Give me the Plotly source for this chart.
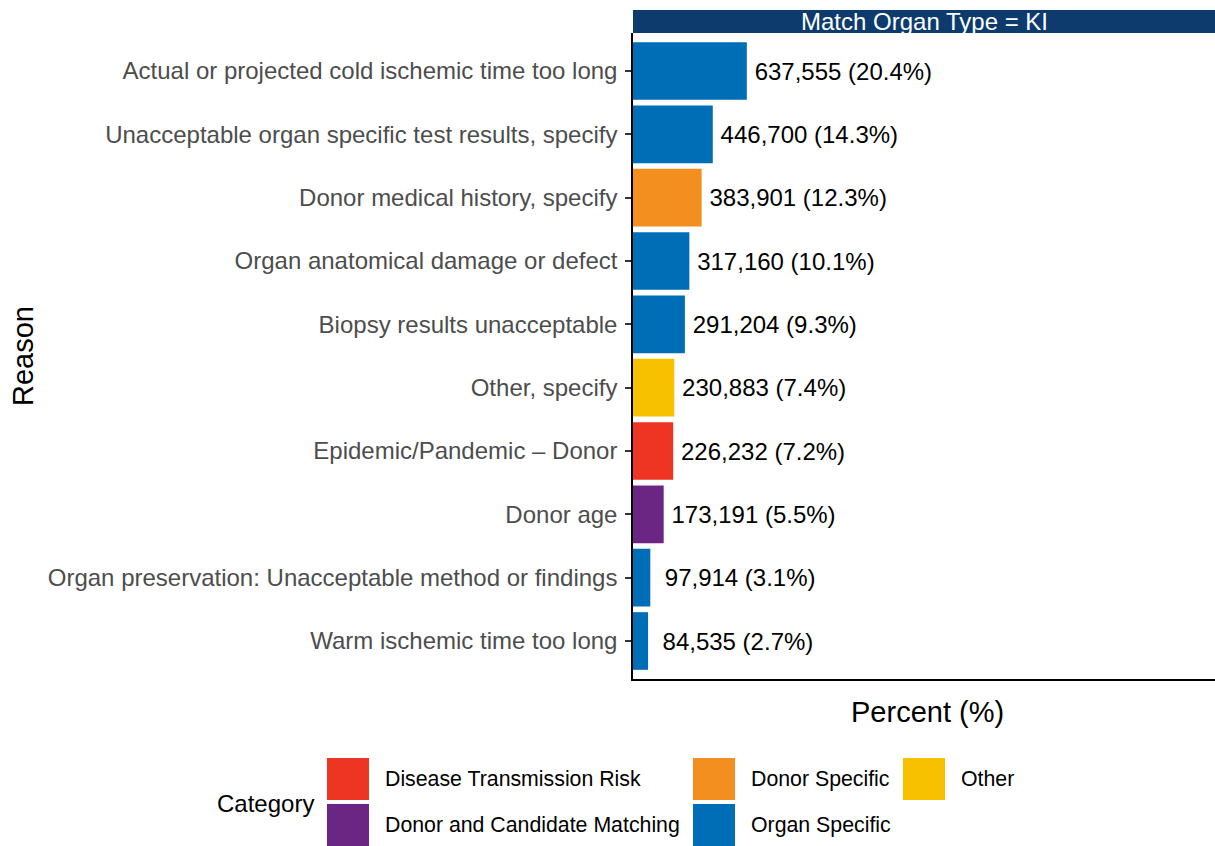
import plotly.graph_objects as go

# ---- data ----
reasons = [
    "Actual or projected cold ischemic time too long",
    "Unacceptable organ specific test results, specify",
    "Donor medical history, specify",
    "Organ anatomical damage or defect",
    "Biopsy results unacceptable",
    "Other, specify",
    "Epidemic/Pandemic \u2013 Donor",
    "Donor age",
    "Organ preservation: Unacceptable method or findings",
    "Warm ischemic time too long",
]
counts = [637555, 446700, 383901, 317160, 291204, 230883, 226232, 173191, 97914, 84535]
percents = [20.4, 14.3, 12.3, 10.1, 9.3, 7.4, 7.2, 5.5, 3.1, 2.7]
categories = [
    "Organ Specific", "Organ Specific", "Donor Specific", "Organ Specific",
    "Organ Specific", "Other", "Disease Transmission Risk",
    "Donor and Candidate Matching", "Organ Specific", "Organ Specific",
]
legend_categories = [
    "Disease Transmission Risk", "Donor and Candidate Matching",
    "Donor Specific", "Organ Specific", "Other",
]
category_colors = {
    "Disease Transmission Risk": "#EE3524",
    "Donor and Candidate Matching": "#6B2683",
    "Donor Specific": "#F28F1E",
    "Organ Specific": "#006DB7",
    "Other": "#F8C100",
}
strip_label = "Match Organ Type = KI"

# ---- layout geometry (page pixels) ----
W, H = 1215, 846
L, R, T, B = 633, 0, 33, 846 - 679
PW, PH = W - L - R, H - T - B


def px_x(p):
    return (p - L) / PW


def px_y(q):
    return (H - B - q) / PH


FONT = "Liberation Sans, Arial, sans-serif"

# counts right-aligned to width 7 as in the source labels; thin space before
labels = []
for c, p in zip(counts, percents):
    pad = "\u00a0" * (7 - len(f"{c:,}"))
    labels.append(f"\u2009{pad}{c:,} ({p}%)")

fig = go.Figure()
fig.add_trace(go.Bar(
    x=percents,
    y=reasons,
    orientation="h",
    marker=dict(color=[category_colors[c] for c in categories], line=dict(width=0)),
    width=0.91,
    text=labels,
    textposition="outside",
    textfont=dict(family=FONT, size=24, color="black"),
    cliponaxis=False,
    showlegend=False,
    hoverinfo="skip",
))

fig.update_layout(
    width=W, height=H,
    margin=dict(l=L, r=R, t=T, b=B, pad=0),
    paper_bgcolor="white", plot_bgcolor="white",
    font=dict(family=FONT),
    uniformtext=dict(mode=False),
)
fig.update_xaxes(
    range=[0, 104.3], showticklabels=False, ticks="", showgrid=False,
    zeroline=False, showline=True, linecolor="black", linewidth=2,
)
fig.update_yaxes(
    type="category", categoryorder="array", categoryarray=reasons,
    range=[9.6, -0.6], showgrid=False, zeroline=False,
    showline=True, linecolor="black", linewidth=1.5,
    ticks="outside", ticklen=6, tickwidth=2, tickcolor="#333333",
    ticklabelstandoff=3,
    tickfont=dict(family=FONT, size=24, color="#4D4D4D"),
)

shapes = []
annotations = []
# facet strip
shapes.append(dict(type="rect", xref="paper", yref="paper",
                   x0=0, x1=1, y0=1, y1=px_y(10),
                   fillcolor="#0D3B6E", line=dict(width=0), layer="above"))
annotations.append(dict(xref="paper", yref="paper", x=0.5, y=px_y(21.5),
                        text=strip_label, showarrow=False,
                        font=dict(family=FONT, size=24, color="white"),
                        xanchor="center", yanchor="middle"))
# axis titles
annotations.append(dict(xref="paper", yref="paper", x=px_x(23), y=px_y(356),
                        text="Reason", textangle=-90, showarrow=False,
                        font=dict(family=FONT, size=29, color="black"),
                        xanchor="center", yanchor="middle"))
annotations.append(dict(xref="paper", yref="paper", x=px_x(927), y=px_y(712),
                        text="Percent (%)", showarrow=False,
                        font=dict(family=FONT, size=29, color="black"),
                        xanchor="center", yanchor="middle"))

# legend (column-major, 2 rows)
annotations.append(dict(xref="paper", yref="paper", x=px_x(215), y=px_y(803),
                        text="Category", showarrow=False,
                        font=dict(family=FONT, size=24, color="black"),
                        xanchor="left", yanchor="middle"))
col_key_x = [327, 693, 903]
row_key_y = [(758, 800), (804, 846)]
for i, cat in enumerate(legend_categories):
    col, row = divmod(i, 2)
    kx = col_key_x[col]
    y0, y1 = row_key_y[row]
    shapes.append(dict(type="rect", xref="paper", yref="paper",
                       x0=px_x(kx), x1=px_x(kx + 42), y0=px_y(y1), y1=px_y(y0),
                       fillcolor=category_colors[cat], line=dict(width=0)))
    annotations.append(dict(xref="paper", yref="paper", x=px_x(kx + 56),
                            y=px_y((y0 + y1) / 2), text=cat, showarrow=False,
                            font=dict(family=FONT, size=21.3, color="black"),
                            xanchor="left", yanchor="middle"))

fig.update_layout(shapes=shapes, annotations=annotations)
fig.write_html(
    "out.html",
    config={"displayModeBar": False},
    post_script="document.body.style.margin='0';"
                "document.body.style.overflow='hidden';",
)
